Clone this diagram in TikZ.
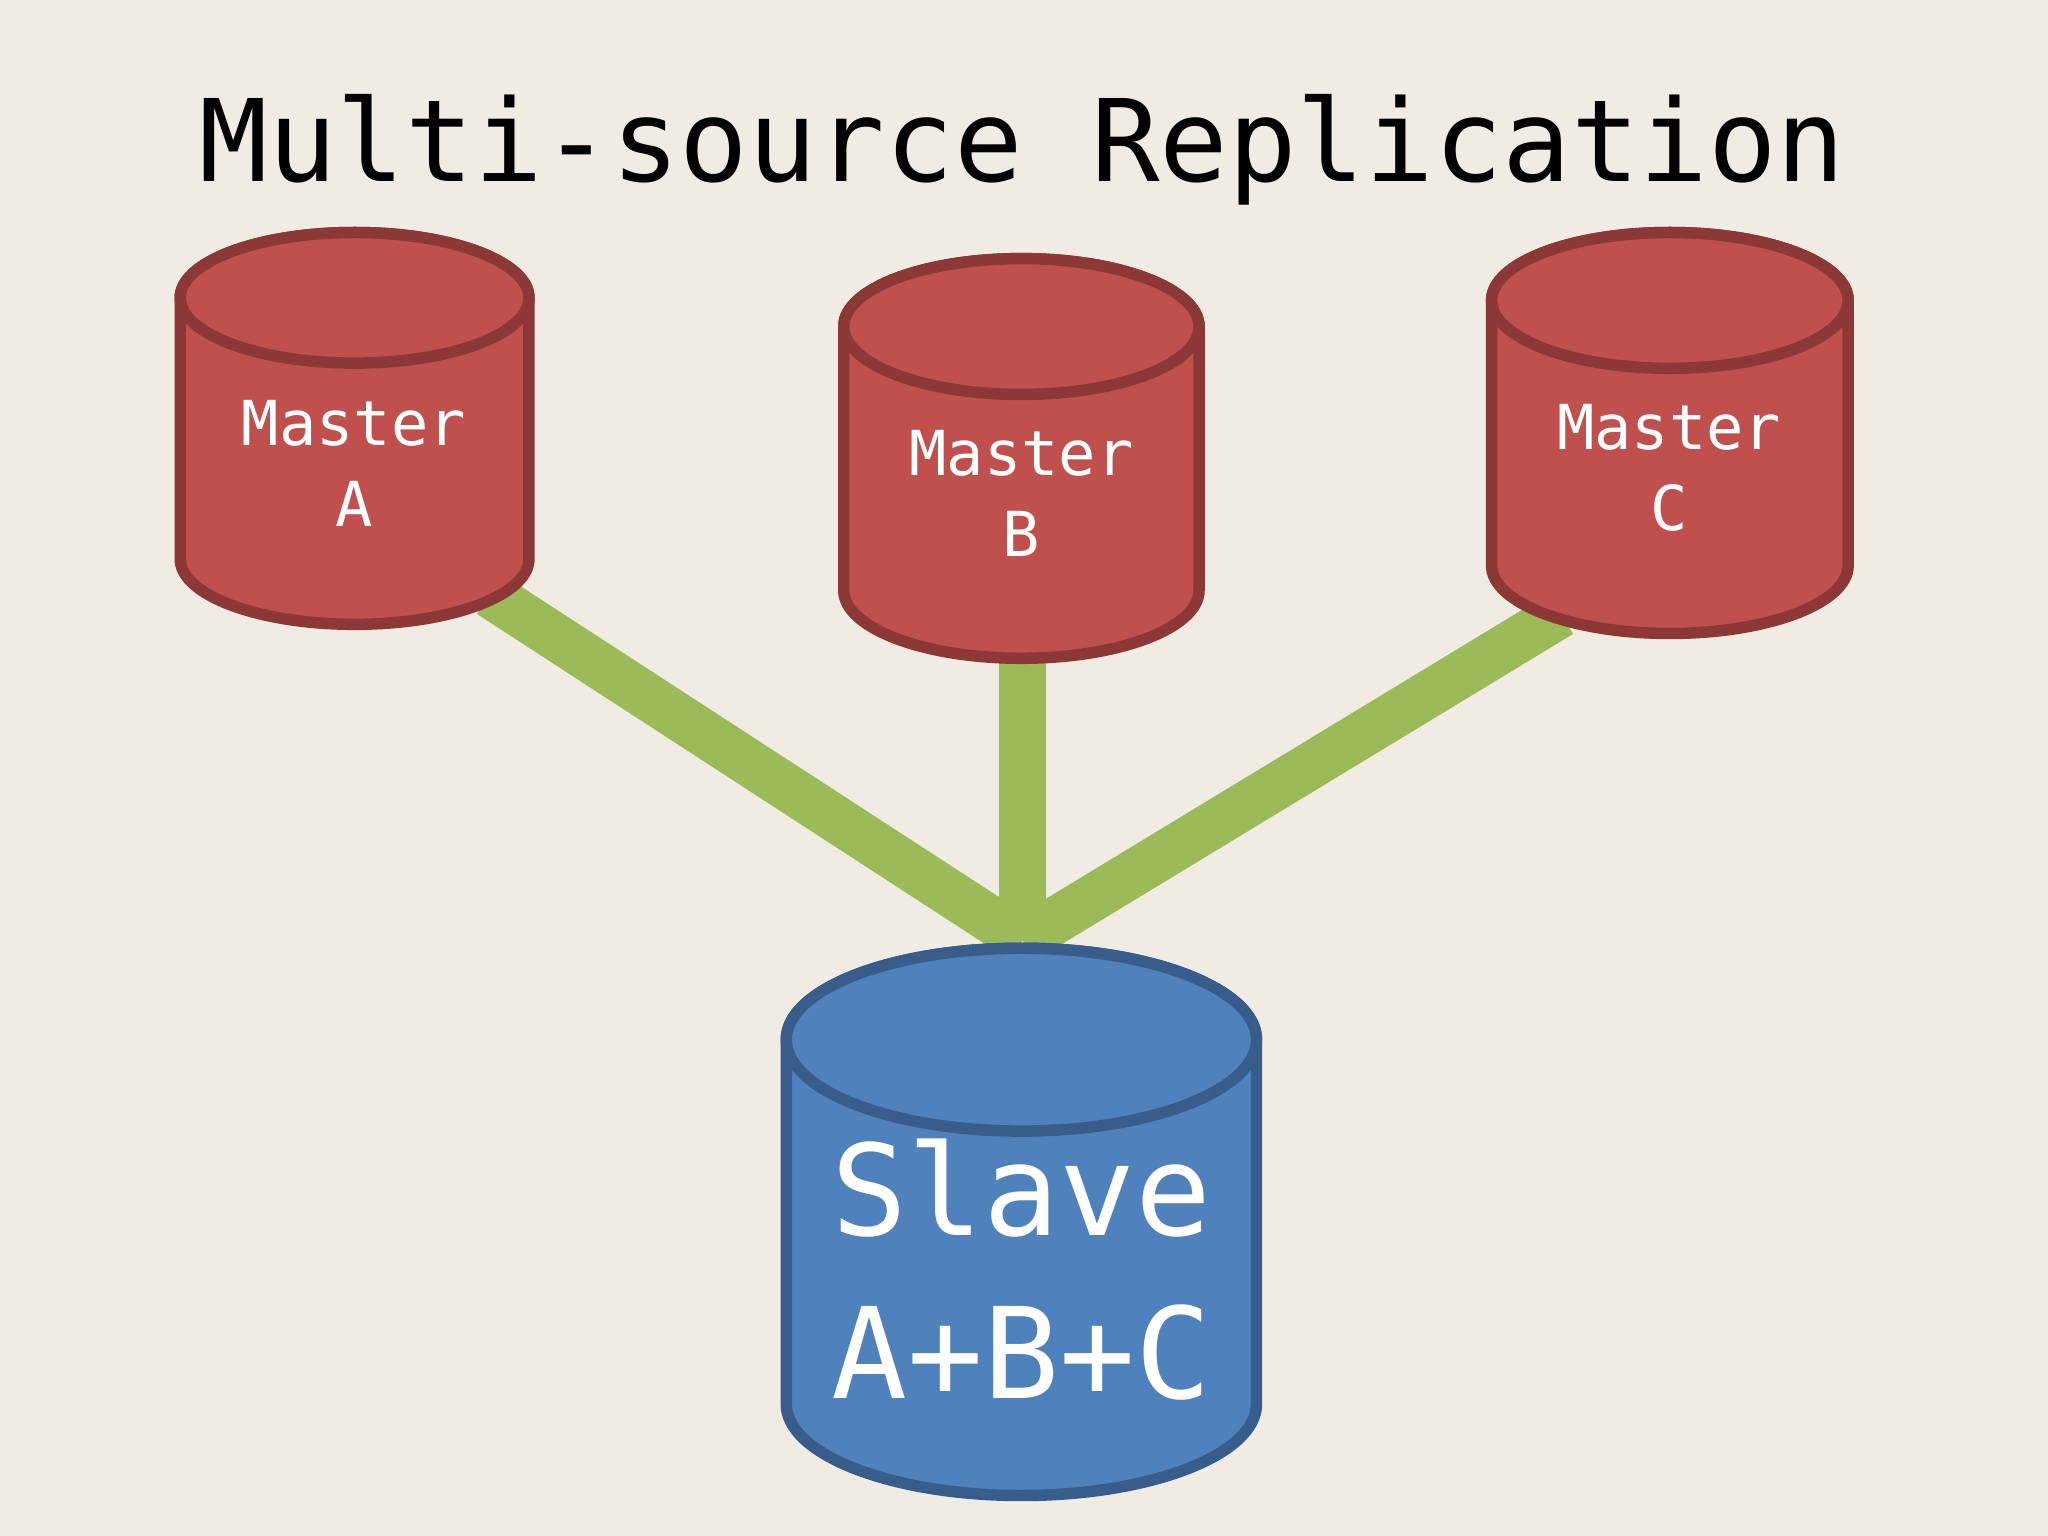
\documentclass[tikz,border=0pt]{standalone}
\usepackage{fontspec}
\setmonofont{DejaVu Sans Mono}
\definecolor{bg}{HTML}{F0EBE3}
\definecolor{red1}{HTML}{C0504D}
\definecolor{red2}{HTML}{8C3836}
\definecolor{blue1}{HTML}{4F81BD}
\definecolor{blue2}{HTML}{385D8A}
\definecolor{green1}{HTML}{9BBB59}
\newcommand{\mycyl}[7]{% x1 x2 ytop ybot ry fill draw
  \path[fill=#6,draw=#7,line width=2.5pt] (#1,#3) -- (#1,#4) arc[start angle=180,end angle=0,x radius={(#2-#1)/2},y radius=#5] -- (#2,#3) arc[start angle=0,end angle=-180,x radius={(#2-#1)/2},y radius=#5] -- cycle;
  \path[fill=#6,draw=#7,line width=2.5pt] ({(#1+#2)/2},#3) ellipse[x radius={(#2-#1)/2},y radius=#5];
}
\begin{document}
\begin{tikzpicture}[x=0.01cm,y=-0.01cm,
  mtxt/.style={text=white,font=\ttfamily\fontsize{13.5}{17.6}\selectfont,align=center},
  link/.style={draw=green1,line width=0.36cm}]
\fill[bg] (0,0) rectangle (1568,1176);
\useasboundingbox (0,0) rectangle (1568,1176);
\node[font=\ttfamily\fontsize{24.8}{29}\selectfont] (title) at (783,115) {Multi-source Replication};
\coordinate (a) at (375,455);
\coordinate (b) at (783,500);
\coordinate (c) at (1195,470);
\coordinate (s) at (783,720);
\draw[link] (a) -- (s);
\draw[link] (b) -- (s);
\draw[link] (c) -- (s);
\mycyl{138}{405}{228}{428}{50}{red1}{red2}
\mycyl{646}{918}{250}{452}{52}{red1}{red2}
\mycyl{1142}{1415}{230}{433}{52}{red1}{red2}
\mycyl{602}{962}{796}{1075}{70}{blue1}{blue2}
\node[mtxt] (ma) at (271,355) {Master\\A};
\node[mtxt] (mb) at (782,378) {Master\\B};
\node[mtxt] (mc) at (1278,358) {Master\\C};
\node[text=white,font=\ttfamily\fontsize{27.5}{35.5}\selectfont,align=center] (sl) at (782,972) {Slave\\A+B+C};
\end{tikzpicture}
\end{document}
